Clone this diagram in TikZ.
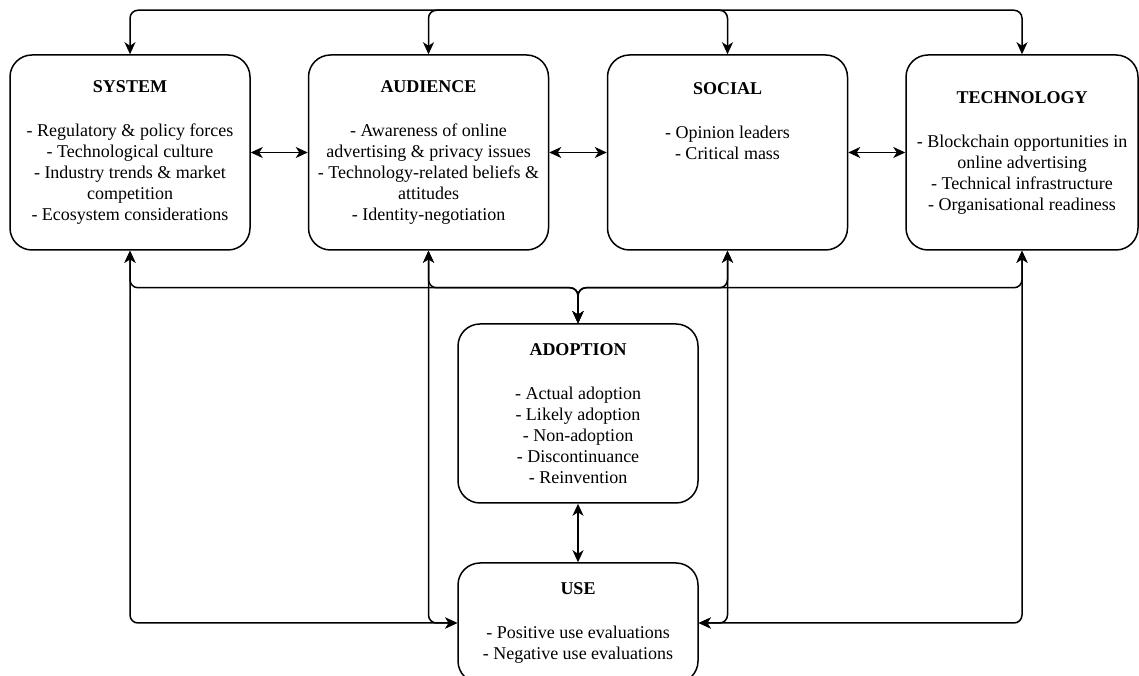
\documentclass[tikz,border=0pt]{standalone}
\usepackage{fontspec}
\setmainfont{Liberation Serif}
\usetikzlibrary{arrows.meta}

\begin{document}
\begin{tikzpicture}[x=1pt, y=1pt,
    box/.style={draw, rounded corners=22pt, line width=1.5pt, align=center, minimum width=240pt, minimum height=195pt, font=\fontsize{18}{21}\selectfont},
    link/.style={line width=1.5pt, rounded corners=8pt, {Stealth[length=12pt,width=11pt,inset=3.5pt]}-{Stealth[length=12pt,width=11pt,inset=3.5pt]}}]
                    \useasboundingbox (0, 0) rectangle (1139, 676);
                    \node[box] (system) at (130, 523.5) {\textbf{SYSTEM}\\[23pt]- Regulatory \& policy forces\\- Technological culture\\- Industry trends \& market\\competition\\- Ecosystem considerations};
                    \node[box] (audience) at (428.5, 523.5) {\textbf{AUDIENCE}\\[23pt]- Awareness of online\\advertising \& privacy issues\\- Technology-related beliefs \&\\attitudes\\- Identity-negotiation};
                    \node[box] (social) at (727.5, 523.5) {\textbf{SOCIAL}\\[23pt]- Opinion leaders\\- Critical mass\\\mbox{}\\\mbox{}\\\mbox{}};
                    \node[box, minimum width=232pt] (tech) at (1022, 523.5) {\textbf{TECHNOLOGY}\\[23pt]- Blockchain opportunities in\\online advertising\\- Technical infrastructure\\- Organisational readiness};
                    \node[box, minimum height=179pt] (adoption) at (578, 262.5) {\textbf{ADOPTION}\\[23pt]- Actual adoption\\- Likely adoption\\- Non-adoption\\- Discontinuance\\- Reinvention};
                    \node[box, minimum height=120pt] (use) at (578, 53) {\textbf{USE}\\[23pt]- Positive use evaluations\\- Negative use evaluations};
                    \draw[link] (system.east) -- (audience.west);
                    \draw[link] (audience.east) -- (social.west);
                    \draw[link] (social.east) -- (tech.west);
                    \draw[link] (system.north) -- ++(0, 44) -| (social.north);
                    \draw[link] (audience.north) -- ++(0, 44) -| (tech.north);
                    \foreach \top in {system, audience, social, tech}
                        \draw[link] (\top.south) -- ++(0, -37) -| (adoption.north);
                    \draw[link] (system.south) |- (use.west);
                    \draw[link] (audience.south) |- (use.west);
                    \draw[link] (social.south) |- (use.east);
                    \draw[link] (tech.south) |- (use.east);
                    \draw[link] (adoption.south) -- (use.north);
                \end{tikzpicture}
\end{document}
